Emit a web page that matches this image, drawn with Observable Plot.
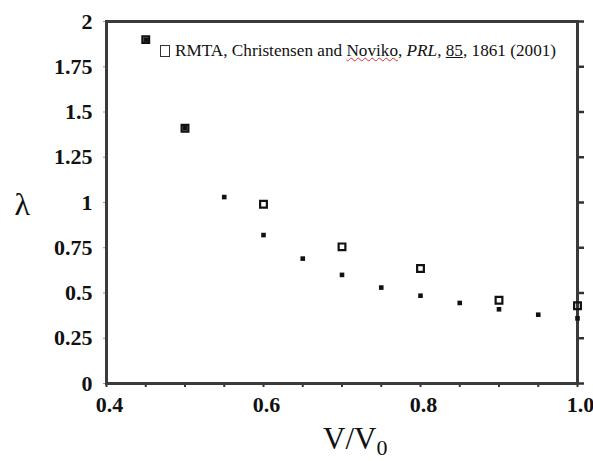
<!DOCTYPE html>
<html>
<head>
<meta charset="utf-8">
<script src="https://cdn.jsdelivr.net/npm/d3@7"></script>
<script src="https://cdn.jsdelivr.net/npm/@observablehq/plot@0.6"></script>
<style>
  html, body { margin: 0; padding: 0; background: #fff; }
  #wrap { position: relative; width: 593px; height: 461px; font-family: "Liberation Serif", "Times New Roman", serif; }
  #wrap svg text { font-family: "Liberation Serif", "Times New Roman", serif; }
  #legend { position: absolute; left: 160px; top: 41px; font-size: 17.2px; color: #111; white-space: nowrap; }
  #legend .sq { display: inline-block; width: 10px; height: 12px; border: 1px solid #333; box-sizing: border-box; margin-right: 5px; vertical-align: -1px; }
  #legend .sp { text-decoration: underline wavy #e03030; text-decoration-thickness: 1px; }
  #xlabel { position: absolute; left: 323px; top: 422px; font-size: 31px; line-height: 34px; color: #111; }
  #xlabel sub { font-size: 22px; vertical-align: -6px; line-height: 0; }
</style>
</head>
<body>
<div id="wrap"></div>
<script>
// Simulation (filled squares)
const vRatio = [0.45, 0.5, 0.55, 0.6, 0.65, 0.7, 0.75, 0.8, 0.85, 0.9, 0.95, 1.0];
const lambdaSim = [1.90, 1.41, 1.03, 0.82, 0.69, 0.60, 0.53, 0.485, 0.445, 0.41, 0.38, 0.36];
// RMTA, Christensen and Noviko (open squares)
const rmtaV = [0.45, 0.5, 0.6, 0.7, 0.8, 0.9, 1.0];
const rmtaLambda = [1.90, 1.41, 0.99, 0.755, 0.635, 0.46, 0.43];
// Ticks
const xMinorTicks = [0.4, 0.45, 0.5, 0.55, 0.6, 0.65, 0.7, 0.75, 0.8, 0.85, 0.9, 0.95, 1.0];
const xTickLabels = [0.4, 0.6, 0.8, 1.0];
const yTicks = [0, 0.25, 0.5, 0.75, 1, 1.25, 1.5, 1.75, 2];

const sim = vRatio.map((v, i) => ({v, l: lambdaSim[i]}));
const rmta = rmtaV.map((v, i) => ({v, l: rmtaLambda[i]}));

const serif = "Liberation Serif";

const chart = Plot.plot({
  width: 593,
  height: 461,
  marginLeft: 106,
  marginTop: 21,
  marginRight: 16,
  marginBottom: 78,
  style: {background: "#fff", color: "#111"},
  x: {domain: [0.4, 1.0]},
  y: {domain: [0, 2]},
  marks: [
    // bottom ticks (all)
    Plot.axisX({ticks: xMinorTicks, tickFormat: () => "", tickSize: 4, stroke: "#333", strokeWidth: 2, label: null}),
    // bottom labels
    Plot.axisX({ticks: xTickLabels, tickSize: 0, tickPadding: 13, dx: 3, tickFormat: d => d.toFixed(1), fontSize: 22, fontWeight: "bold", fontFamily: serif, label: null}),
    // left ticks + labels
    Plot.axisY({ticks: yTicks, tickSize: 3, stroke: "#999", tickPadding: 11, tickFormat: d => String(d), fontSize: 22, fontWeight: "bold", fontFamily: serif, label: null}),
    // right ticks
    Plot.axisY({anchor: "right", ticks: yTicks, tickSize: 6, stroke: "#333", strokeWidth: 2.5, tickFormat: () => "", label: null}),
    Plot.frame({stroke: "#3a3a3a", strokeWidth: 3}),
    Plot.dot(rmta, {x: "v", y: "l", symbol: "square", r: 3.8, stroke: "#111", strokeWidth: 2.2, fill: "none"}),
    Plot.dot(sim, {x: "v", y: "l", symbol: "square", r: 2.6, fill: "#111"}),
    Plot.text(["λ"], {frameAnchor: "left", dx: -92, dy: 2, fontSize: 32, fontFamily: serif, fill: "#111"})
  ]
});

const wrap = document.getElementById("wrap");
wrap.appendChild(chart);

const legend = document.createElement("div");
legend.id = "legend";
legend.innerHTML = '<span class="sq"></span>RMTA, Christensen and <span class="sp">Noviko</span>, <i>PRL</i>, <u>85</u>, 1861 (2001)';
wrap.appendChild(legend);

const xl = document.createElement("div");
xl.id = "xlabel";
xl.innerHTML = 'V/V<sub>0</sub>';
wrap.appendChild(xl);
</script>
</body>
</html>
